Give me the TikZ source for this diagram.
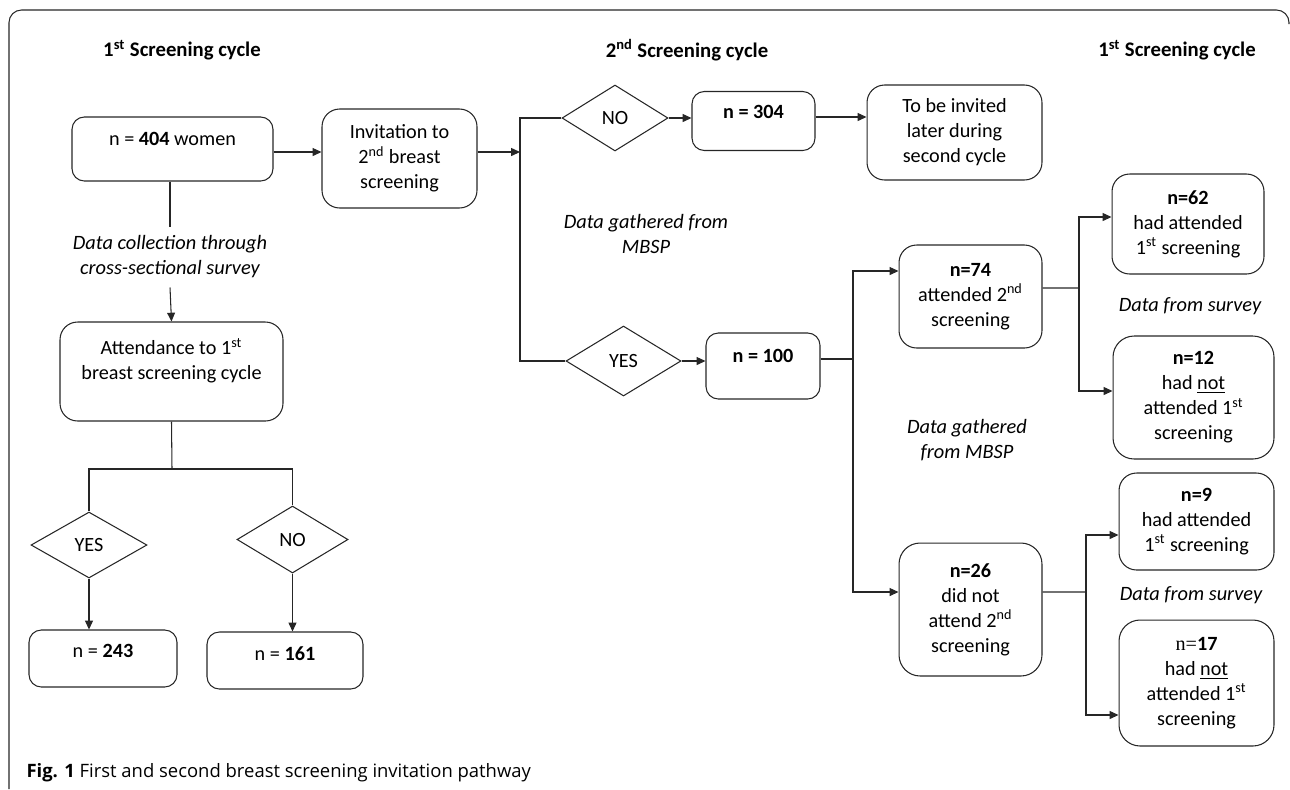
\documentclass[tikz,border=0pt]{standalone}
\usepackage{fontspec}
\setmainfont{Carlito}
\newfontfamily\capfont{Open Sans}
\newfontfamily\nfont{Liberation Serif}
\usetikzlibrary{shapes.geometric,arrows.meta,calc}
\tikzset{
    %standard arrow tip
    arr/.style={-{Triangle[length=5pt,width=4.5pt]}},
    box/.style={draw, rounded corners=7pt, align=center, inner sep=0pt},
    decision/.style={draw, diamond, inner sep=0pt},
    note/.style={align=center, font=\fontsize{11.6}{14.2}\selectfont\itshape},
    head/.style={font=\fontsize{11.8}{14}\selectfont\bfseries}
}
\begin{document}
\begin{tikzpicture}[x=0.02cm, y=-0.02cm, line width=0.6pt, draw=black!85,
    every node/.style={font=\fontsize{11.5}{14.2}\selectfont}]
    \useasboundingbox (0,0) rectangle (1290,789);
    % frame
    \draw[rounded corners=0.25cm] (9,789) -- (9,10) -- (1289,10) -- (1289,24);

    % headers
    \node[head] (h1) at (182,50) {1\textsuperscript{st} Screening cycle};
    \node[head] (h2) at (687,50) {2\textsuperscript{nd} Screening cycle};
    \node[head] (h3) at (1177,50) {1\textsuperscript{st} Screening cycle};

    % first cycle
    \node[box, minimum width=4.02cm, minimum height=1.28cm, text depth=12pt] (n404) at (172.5,149) {n = \textbf{404} women};
    \node[note, inner ysep=5pt] (collect) at (170,257) {Data collection through\\cross-sectional survey};
    \node[box, rounded corners=10pt, minimum width=4.46cm, minimum height=1.98cm] (attend) at (171.5,371.5) {Attendance to 1\textsuperscript{st}\\breast screening cycle\\ };
    \coordinate (j5) at (172,469);
    \node[decision, minimum width=2.32cm, minimum height=1.32cm] (yes1) at (89,545) {YES};
    \node[decision, minimum width=2.22cm, minimum height=1.34cm] (no1) at (292.5,539.5) {NO};
    \node[box, minimum width=2.96cm, minimum height=1.14cm, text depth=8.5pt] (n243) at (103,658.5) {n = \textbf{243}};
    \node[box, minimum width=3.12cm, minimum height=1.14cm, text depth=7.5pt] (n161) at (285,660.5) {n = \textbf{161}};

    % second cycle
    \node[box, rounded corners=10pt, minimum width=3.1cm, minimum height=1.98cm] (invit) at (399.5,158.5) {Invitation to\\2\textsuperscript{nd} breast\\screening};
    \coordinate (j1) at (520,152);
    \node[decision, minimum width=2.12cm, minimum height=1.32cm] (no2) at (615,118) {NO};
    \node[box, minimum width=2.46cm, minimum height=1.18cm, text depth=10pt] (n304) at (753.5,121) {\textbf{n = 304}};
    \node[box, rounded corners=10pt, minimum width=3.5cm, minimum height=1.9cm] (later) at (954.5,132.5) {To be invited\\later during\\second cycle};
    \node[note] (mbsp1) at (646,234) {Data gathered from\\MBSP};
    \node[decision, minimum width=2.3cm, minimum height=1.4cm] (yes2) at (623.5,361) {YES};
    \node[box, minimum width=2.28cm, minimum height=1.32cm, text depth=12pt] (n100) at (763,366) {\textbf{n = 100}};
    \coordinate (j2) at (853,359);
    \node[box, rounded corners=10pt, minimum width=2.86cm, minimum height=2.06cm] (n74) at (970.5,296.5) {\textbf{n=74}\\attended 2\textsuperscript{nd}\\screening};
    \node[note] (mbsp2) at (967,440) {Data gathered\\from MBSP};
    \node[box, rounded corners=12pt, minimum width=2.86cm, minimum height=2.66cm] (n26) at (970.5,609.5) {\textbf{n=26}\\did not\\attend 2\textsuperscript{nd}\\screening};

    % back to first cycle
    \coordinate (j3) at (1079,288);
    \coordinate (j4) at (1086,592);
    \node[box, rounded corners=10pt, minimum width=3.04cm, minimum height=2.0cm] (n62) at (1188,224) {\textbf{n=62}\\had attended\\1\textsuperscript{st} screening};
    \node[note] (surv1) at (1190,306) {Data from survey};
    \node[box, rounded corners=12pt, minimum width=3.22cm, minimum height=2.46cm] (n12) at (1193.5,397.5) {\textbf{n=12}\\had \underline{not}\\attended 1\textsuperscript{st}\\screening};
    \node[box, rounded corners=10pt, minimum width=3.1cm, minimum height=1.94cm] (n9) at (1196.5,521.5) {\textbf{n=9}\\had attended\\1\textsuperscript{st} screening};
    \node[note] (surv2) at (1191,595) {Data from survey};
    \node[box, rounded corners=12pt, minimum width=3.1cm, minimum height=2.52cm] (n17) at (1196.5,683) {{\nfont n=}\textbf{17}\\had \underline{not}\\attended 1\textsuperscript{st}\\screening};

    % connectors, first cycle
    \draw[arr] (n404.east |- 0,152) -- (invit.west |- 0,152);
    \draw (n404.south -| collect) -- (collect.north);
    \draw[arr] (collect.south) -- (attend.north);
    \draw (attend.south) -- (j5);
    \draw (j5) -| (yes1.north);
    \draw (j5) -| (no1.north);
    \draw[arr] (yes1.south) -- (yes1.south |- n243.north);
    \draw[arr] (no1.south) -- (no1.south |- n161.north);

    % connectors, second cycle
    \draw[arr] (invit.east |- j1) -- (j1);
    \draw (no2.west) -| (j1) |- (yes2.west);
    \draw[arr] (no2.east) -- (no2.east -| n304.west);
    \draw[arr] (n304.east |- 0,117) -- (later.west |- 0,117);
    \draw[arr] (yes2.east) -- (yes2.east -| n100.west);
    \draw (n100.east |- j2) -- (j2);
    \draw[arr] (j2) |- ([yshift=0.51cm]n74.west);
    \draw[arr] (j2) |- ([yshift=0.35cm]n26.west);
    \draw ([yshift=0.17cm]n74.east) -- (j3);
    \draw[arr] (j3) |- ([yshift=0.14cm]n62.west);
    \draw[arr] (j3) |- ([yshift=0.13cm]n12.west);
    \draw ([yshift=0.35cm]n26.east) -- (j4);
    \draw[arr] (j4) |- ([yshift=-0.27cm]n9.west);
    \draw[arr] (j4) |- ([yshift=-0.64cm]n17.west);

    % caption
    \node[anchor=west, inner sep=0pt, font=\capfont\fontsize{10.5}{12}\selectfont] (cap) at (26,773) {\textbf{Fig. 1} First and second breast screening invitation pathway};
\end{tikzpicture}
\end{document}
